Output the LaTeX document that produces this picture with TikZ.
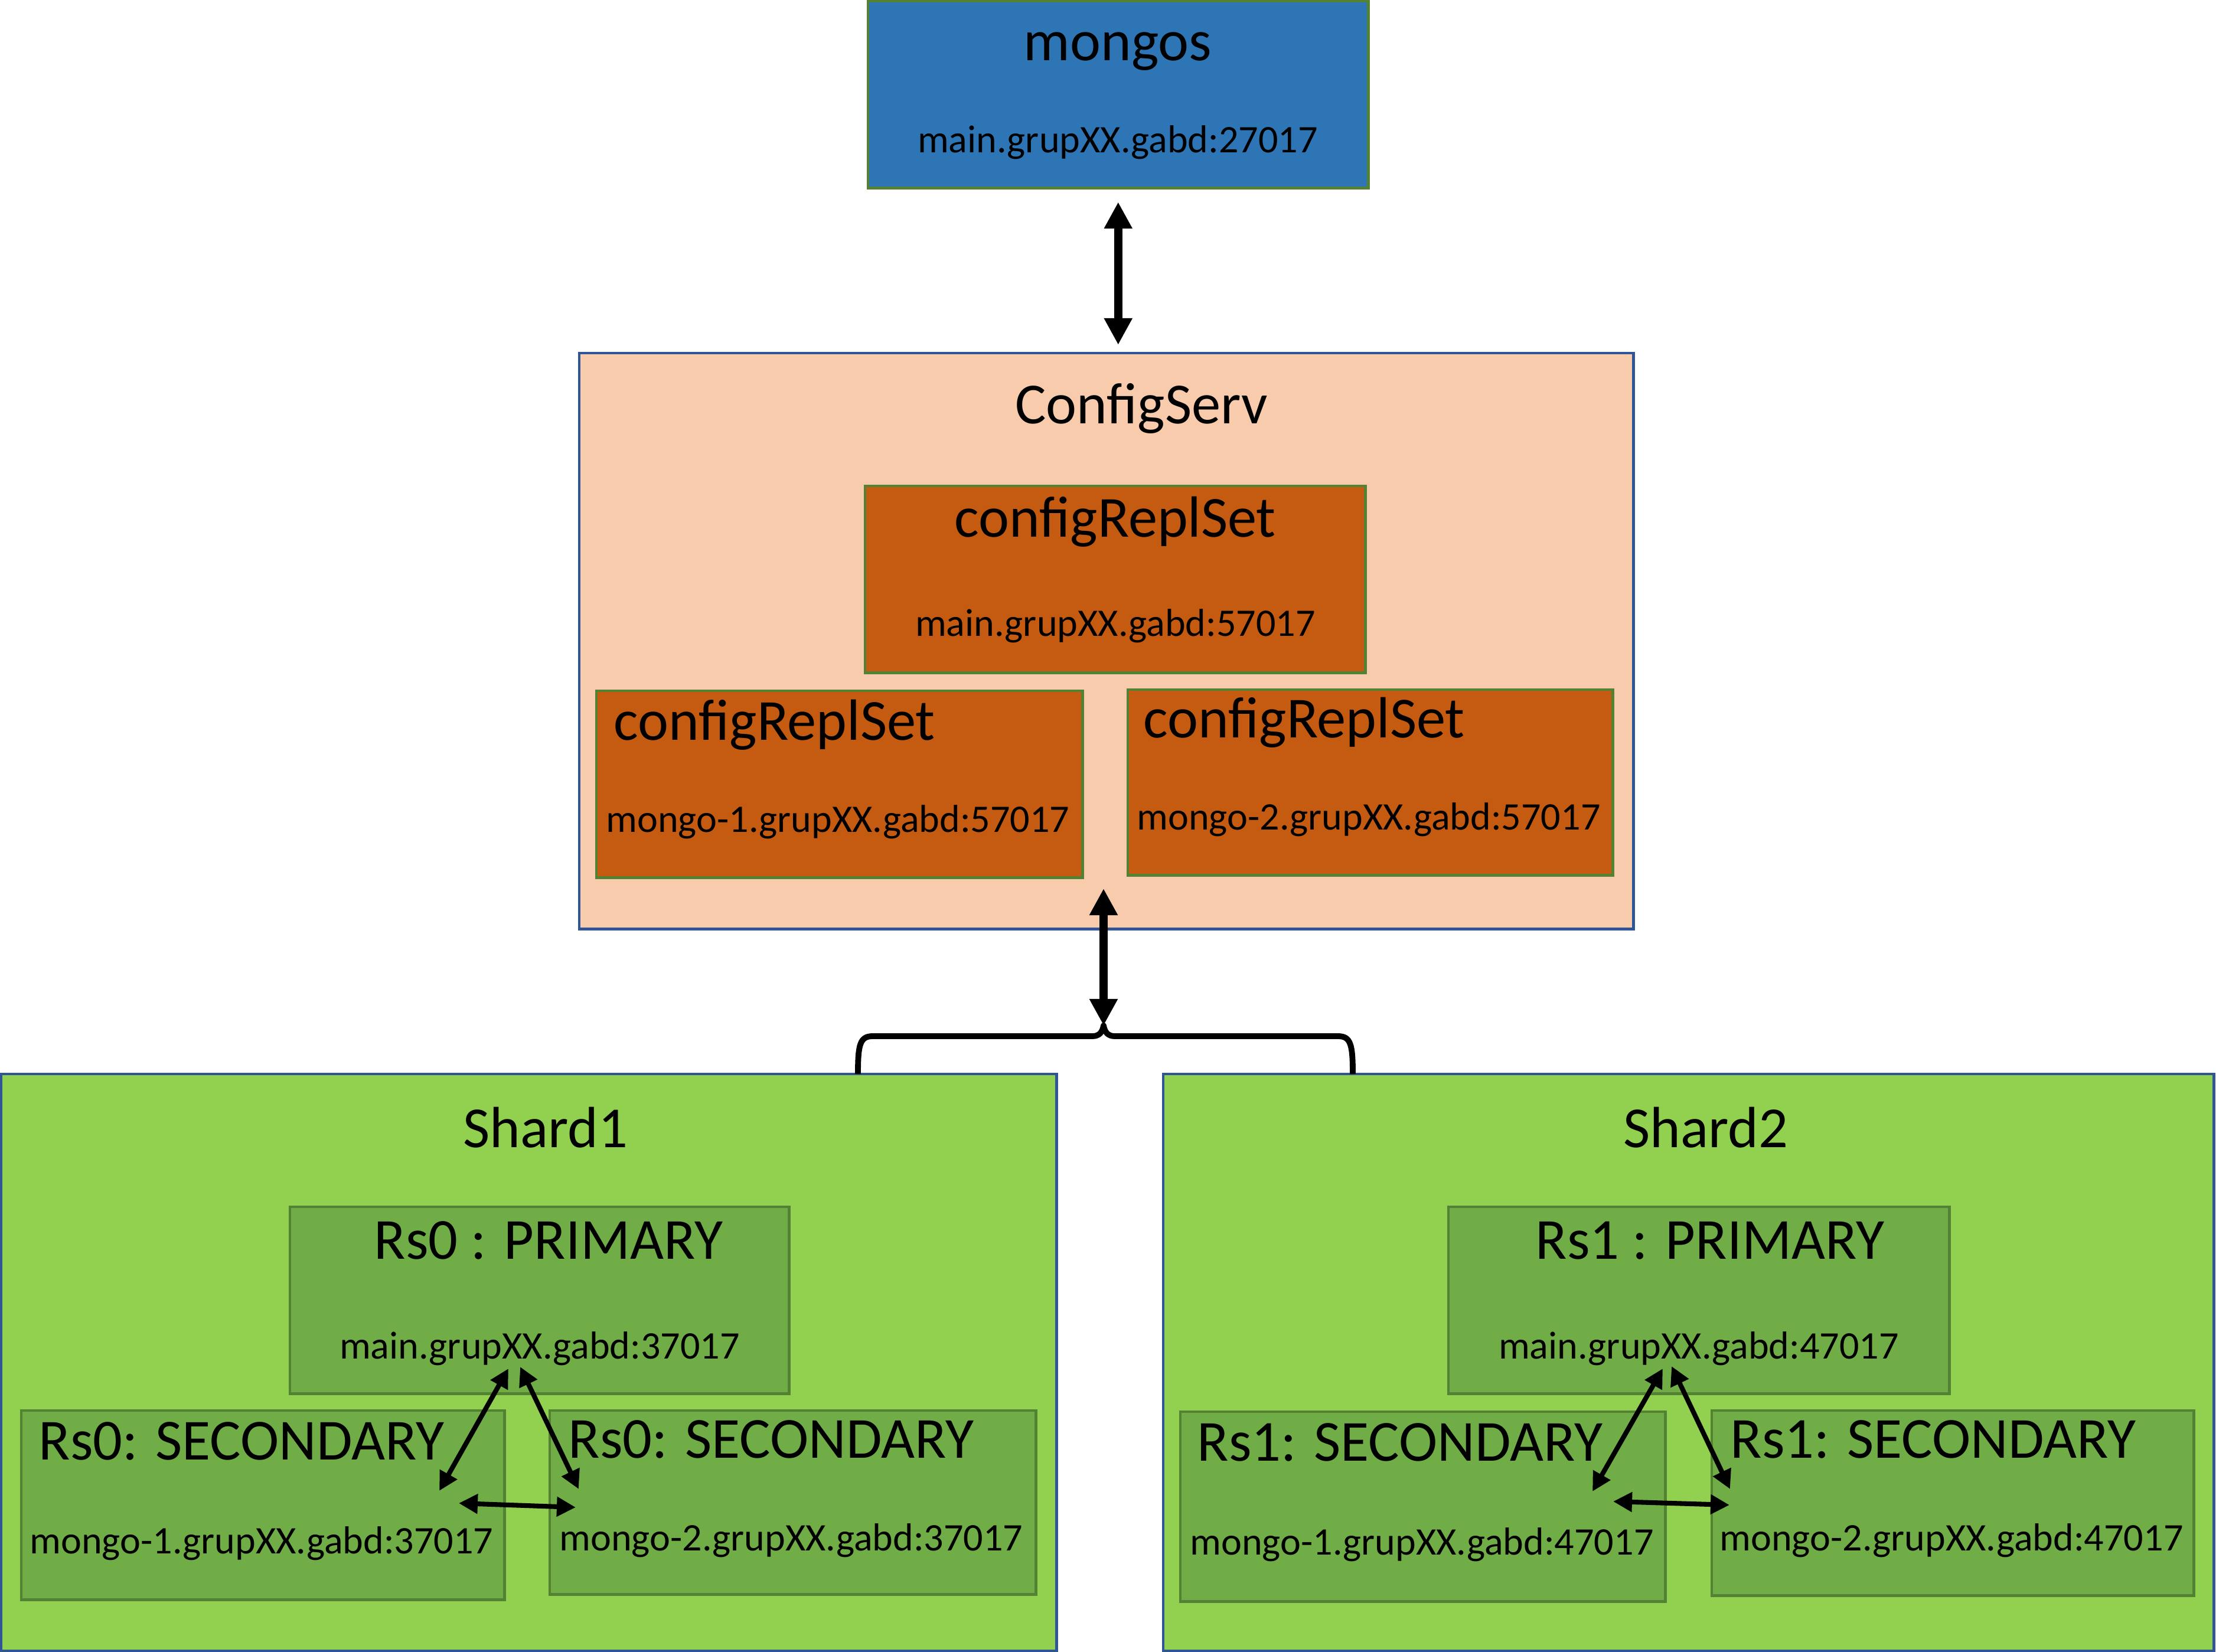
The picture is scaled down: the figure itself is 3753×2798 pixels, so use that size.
\documentclass[tikz,border=0pt]{standalone}
\usepackage{fontspec}
\setmainfont{Carlito}
\usetikzlibrary{arrows.meta}

\definecolor{mongoblue}{HTML}{2E75B6}
\definecolor{boxgreen}{HTML}{548235}
\definecolor{cfgpeach}{HTML}{F8CBAD}
\definecolor{cfgorange}{HTML}{C55A11}
\definecolor{edgeblue}{HTML}{2F5597}
\definecolor{shardgreen}{HTML}{92D050}
\definecolor{rsgreen}{HTML}{70AD47}

\begin{document}
\begin{tikzpicture}[x=0.01cm, y=-0.01cm,
    box/.style={draw, line width=1.4pt, anchor=north west, inner sep=0pt, outer sep=0pt},
    title/.style={font=\fontsize{28}{34}\selectfont, inner sep=0pt, anchor=base, yshift=-0.045cm},
    lefttitle/.style={title, anchor=base west},
    addr/.style={font=\fontsize{18.8}{22}\selectfont, inner sep=0pt, anchor=base, yshift=-0.03cm},
    bigarrow/.style={line width=4pt, {Triangle[length=0.45cm,width=0.45cm]}-{Triangle[length=0.45cm,width=0.45cm]}},
    rsarrow/.style={line width=2.3pt, {Triangle[length=0.32cm,width=0.32cm]}-{Triangle[length=0.32cm,width=0.32cm]}},
    brace/.style={line width=2.8pt, line join=round}
]
    \useasboundingbox (0,0) rectangle (3753,2798);

    % Router
    \node[box, fill=mongoblue, draw=boxgreen, minimum width=8.47cm, minimum height=3.16cm] (mongos) at (1470,2) {};
    \node[title] (mongostitle) at (1893,98) {mongos};
    \node[addr] (mongosaddr) at (1893,256) {main.grupXX.gabd:27017};

    % Config servers
    \node[box, fill=cfgpeach, draw=edgeblue, minimum width=17.84cm, minimum height=9.75cm] (cfgserv) at (981,598) {};
    \node[title] (cfgservtitle) at (1933,713) {ConfigServ};

    \node[box, fill=cfgorange, draw=boxgreen, minimum width=8.47cm, minimum height=3.16cm] (cfgmain) at (1465,823) {};
    \node[title] (cfgmaintitle) at (1889,905) {configReplSet};
    \node[addr] (cfgmainaddr) at (1889,1075) {main.grupXX.gabd:57017};

    \node[box, fill=cfgorange, draw=boxgreen, minimum width=8.23cm, minimum height=3.16cm] (cfgone) at (1010,1170) {};
    \node[lefttitle] (cfgonetitle) at (1039,1249) {configReplSet};
    \node[addr] (cfgoneaddr) at (1419,1407) {mongo-1.grupXX.gabd:57017};

    \node[box, fill=cfgorange, draw=boxgreen, minimum width=8.21cm, minimum height=3.14cm] (cfgtwo) at (1910,1168) {};
    \node[lefttitle] (cfgtwotitle) at (1936,1245) {configReplSet};
    \node[addr] (cfgtwoaddr) at (2318,1403) {mongo-2.grupXX.gabd:57017};

    % Shard 1
    \node[box, fill=shardgreen, draw=edgeblue, minimum width=17.86cm, minimum height=9.77cm] (shardone) at (2,1819) {};
    \node[title] (shardonetitle) at (924,1939) {Shard1};

    \node[box, fill=rsgreen, draw=boxgreen, minimum width=8.45cm, minimum height=3.16cm] (rszero) at (491,2044) {};
    \node[title] (rszerotitle) at (929,2128) {Rs0 : PRIMARY};
    \node[addr] (rszeroaddr) at (914,2298) {main.grupXX.gabd:37017};

    \node[box, fill=rsgreen, draw=boxgreen, minimum width=8.18cm, minimum height=3.20cm] (rszeroa) at (36,2389) {};
    \node[lefttitle] (rszeroatitle) at (65,2468) {Rs0: SECONDARY};
    \node[addr] (rszeroaaddr) at (443,2628) {mongo-1.grupXX.gabd:37017};

    \node[box, fill=rsgreen, draw=boxgreen, minimum width=8.23cm, minimum height=3.11cm] (rszerob) at (931,2389) {};
    \node[lefttitle] (rszerobtitle) at (962,2465) {Rs0: SECONDARY};
    \node[addr] (rszerobaddr) at (1340,2623) {mongo-2.grupXX.gabd:37017};

    % Shard 2
    \node[box, fill=shardgreen, draw=edgeblue, minimum width=17.78cm, minimum height=9.77cm] (shardtwo) at (1970,1819) {};
    \node[title] (shardtwotitle) at (2889,1939) {Shard2};

    \node[box, fill=rsgreen, draw=boxgreen, minimum width=8.48cm, minimum height=3.16cm] (rsone) at (2453,2044) {};
    \node[title] (rsonetitle) at (2896,2128) {Rs1 : PRIMARY};
    \node[addr] (rsoneaddr) at (2877,2298) {main.grupXX.gabd:47017};

    \node[box, fill=rsgreen, draw=boxgreen, minimum width=8.21cm, minimum height=3.21cm] (rsonea) at (1999,2391) {};
    \node[lefttitle] (rsoneatitle) at (2027,2470) {Rs1: SECONDARY};
    \node[addr] (rsoneaaddr) at (2408,2630) {mongo-1.grupXX.gabd:47017};

    \node[box, fill=rsgreen, draw=boxgreen, minimum width=8.16cm, minimum height=3.13cm] (rsoneb) at (2899,2389) {};
    \node[lefttitle] (rsonebtitle) at (2930,2465) {Rs1: SECONDARY};
    \node[addr] (rsonebaddr) at (3305,2623) {mongo-2.grupXX.gabd:47017};

    % Router <-> config servers
    \draw[bigarrow, shorten <=0.24cm, shorten >=0.14cm] (mongos.south) -- (mongos.south |- cfgserv.north);

    % Config servers <-> shards
    \coordinate (cfgarr) at (1869,1505);
    \coordinate (brtip) at (1869,1737);
    \coordinate (brone) at (1453,1819);
    \coordinate (brtwo) at (2291,1819);
    \draw[brace] (brone) .. controls (1453,1770) and (1456,1755) .. (1478,1755) -- (1850,1755)
        .. controls (1862,1755) and (1867,1748) .. (brtip)
        .. controls (1871,1748) and (1876,1755) .. (1888,1755) -- (2266,1755)
        .. controls (2288,1755) and (2291,1770) .. (brtwo);
    \draw[bigarrow] (cfgarr) -- (brtip);

    % Replication inside Shard1
    \coordinate (zp1) at (861,2318);  \coordinate (za1) at (744,2525);
    \coordinate (zp2) at (881,2315);  \coordinate (zb1) at (980,2522);
    \coordinate (za2) at (777,2546);  \coordinate (zb2) at (975,2553);
    \draw[rsarrow] (zp1) -- (za1);
    \draw[rsarrow] (zp2) -- (zb1);
    \draw[rsarrow] (za2) -- (zb2);

    % Replication inside Shard2
    \coordinate (op1) at (2816,2318); \coordinate (oa1) at (2697,2526);
    \coordinate (op2) at (2831,2314); \coordinate (ob1) at (2930,2522);
    \coordinate (oa2) at (2732,2543); \coordinate (ob2) at (2929,2549);
    \draw[rsarrow] (op1) -- (oa1);
    \draw[rsarrow] (op2) -- (ob1);
    \draw[rsarrow] (oa2) -- (ob2);
\end{tikzpicture}
\end{document}
